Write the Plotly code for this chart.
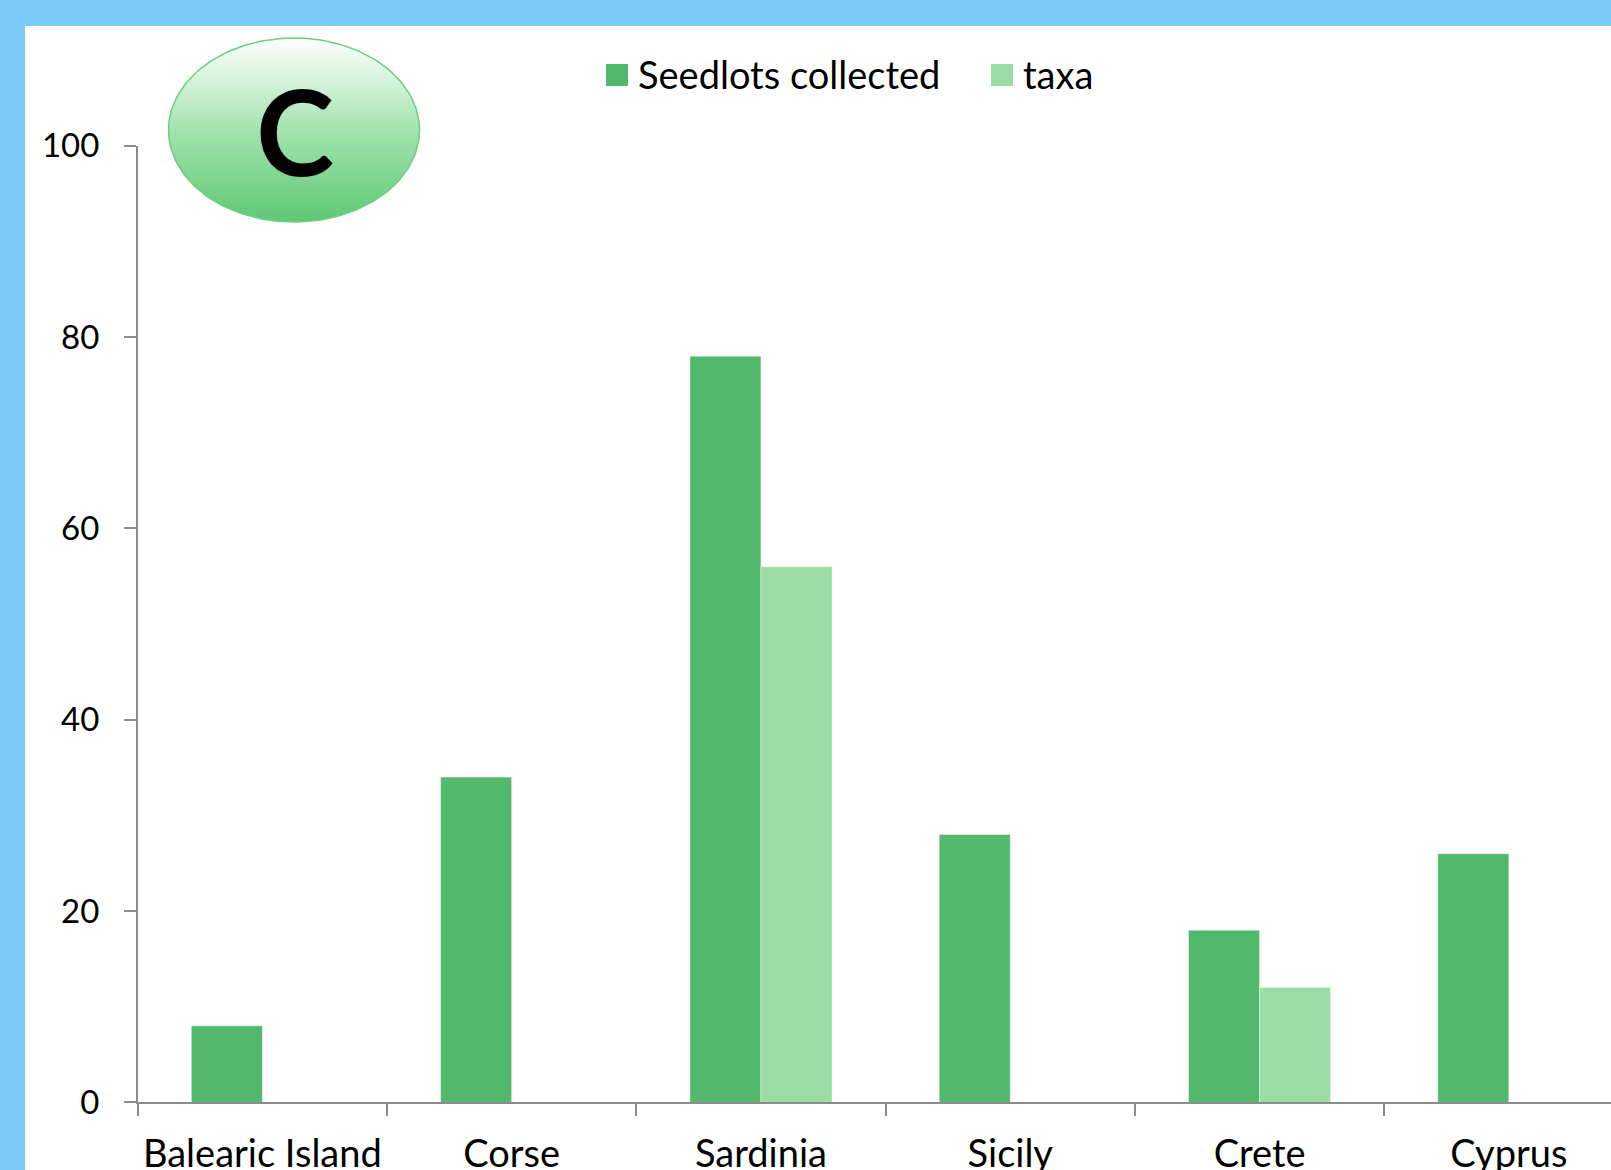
import numpy as np
import plotly.graph_objects as go

# ---------------- data ----------------
categories = ["Balearic Island", "Corse", "Sardinia", "Sicily", "Crete", "Cyprus"]
seedlots = [8, 34, 78, 28, 18, 26]
taxa = [None, None, 56, None, 12, None]
series_names = ["Seedlots collected", "taxa"]
y_ticks = [0, 20, 40, 60, 80, 100]
panel_letter = "C"

# ---------------- styling ----------------
W, H = 1611, 1170
DARK = "#52B86B"
LIGHT = "#99DDA5"
BLUE = "#7BCAF9"
AXIS = "#8C8C8C"
FONT = "Lato"


def fx(px):
    return px / W


def fy(py):
    return 1 - py / H


x_left = 137.7
y_zero = 1102.4
y_top = 145.7
cat_w = 249.3
x_max = -0.5 + (W - x_left) / cat_w

fig = go.Figure()
fig.add_trace(go.Bar(x=categories, y=seedlots, name=series_names[0],
                     marker=dict(color=DARK, line=dict(color="rgba(255,255,255,0.45)", width=1)),
                     showlegend=False, xaxis="x", yaxis="y"))
fig.add_trace(go.Bar(x=categories, y=taxa, name=series_names[1],
                     marker=dict(color=LIGHT, line=dict(color="rgba(255,255,255,0.45)", width=1)),
                     showlegend=False, xaxis="x", yaxis="y"))

# decorative ellipse badge with vertical gradient (pixel-space overlay axes)
cx, cy, rx, ry = 294, 130, 125.5, 92
t = np.linspace(0, 2 * np.pi, 200)
ex = cx + rx * np.cos(t)
ey = H - (cy + ry * np.sin(t))
fig.add_trace(go.Scatter(x=ex, y=ey, mode="lines", fill="toself",
                         line=dict(color="#6CCF80", width=1.5),
                         fillgradient=dict(type="vertical",
                                           colorscale=[[0, "#5FC874"], [0.5, "#A3E3AE"], [1, "#FFFFFF"]]),
                         showlegend=False, hoverinfo="skip", xaxis="x2", yaxis="y2"))

fig.update_layout(
    width=W, height=H,
    margin=dict(l=0, r=0, t=0, b=0),
    paper_bgcolor="white",
    plot_bgcolor="rgba(0,0,0,0)",
    barmode="group",
    bargap=0.43,
    bargroupgap=0,
    showlegend=False,
    font=dict(family=FONT, color="#000000"),
    xaxis=dict(domain=[fx(x_left), 1], range=[-0.5, x_max],
               tickson="boundaries", ticks="outside", ticklen=12, tickwidth=1.5,
               tickcolor=AXIS, showline=True, linecolor=AXIS, linewidth=1.5,
               showgrid=False, zeroline=False, anchor="y", automargin=False,
               tickfont=dict(family=FONT, size=38, color="#000000"),
               ticklabelstandoff=17),
    yaxis=dict(domain=[fy(y_zero), fy(y_top)], range=[0, 100],
               tickvals=y_ticks, ticks="outside", ticklen=12, tickwidth=1.5,
               tickcolor=AXIS, showline=True, linecolor=AXIS, linewidth=1.5,
               showgrid=False, zeroline=False, anchor="x", automargin=False,
               tickfont=dict(family=FONT, size=33, color="#000000"),
               ticklabelstandoff=18),
    xaxis2=dict(domain=[0, 1], range=[0, W], visible=False, anchor="y2", fixedrange=True),
    yaxis2=dict(domain=[0, 1], range=[0, H], visible=False, anchor="x2", fixedrange=True),
)

shapes = [
    # blue frame
    dict(type="rect", xref="paper", yref="paper", x0=0, x1=1, y0=fy(26), y1=1,
         fillcolor=BLUE, line=dict(width=0), layer="above"),
    dict(type="rect", xref="paper", yref="paper", x0=0, x1=fx(25), y0=0, y1=1,
         fillcolor=BLUE, line=dict(width=0), layer="above"),
    # legend swatches
    dict(type="rect", xref="paper", yref="paper", x0=fx(606), x1=fx(628), y0=fy(86), y1=fy(64),
         fillcolor=DARK, line=dict(width=0)),
    dict(type="rect", xref="paper", yref="paper", x0=fx(991), x1=fx(1013), y0=fy(86), y1=fy(64),
         fillcolor=LIGHT, line=dict(width=0)),
]
fig.update_layout(shapes=shapes)

annotations = [
    dict(text=series_names[0], xref="paper", yref="paper", x=fx(636), y=fy(74),
         xanchor="left", yanchor="middle", showarrow=False,
         font=dict(family=FONT, size=38, color="#000000")),
    dict(text=series_names[1], xref="paper", yref="paper", x=fx(1021), y=fy(74),
         xanchor="left", yanchor="middle", showarrow=False,
         font=dict(family=FONT, size=38, color="#000000")),
    dict(text="<b>" + panel_letter + "</b>", xref="paper", yref="paper", x=fx(295), y=fy(130),
         xanchor="center", yanchor="middle", showarrow=False,
         font=dict(family=FONT, size=118, color="#000000")),
]
fig.update_layout(annotations=annotations)

post = ("document.body.style.margin='0';document.body.style.overflow='hidden';"
        "var d=document.getElementById('{plot_id}');d.style.position='absolute';"
        "d.style.left='0px';d.style.top='0px';")
fig.write_html("out.html", post_script=post, config={"displayModeBar": False})
